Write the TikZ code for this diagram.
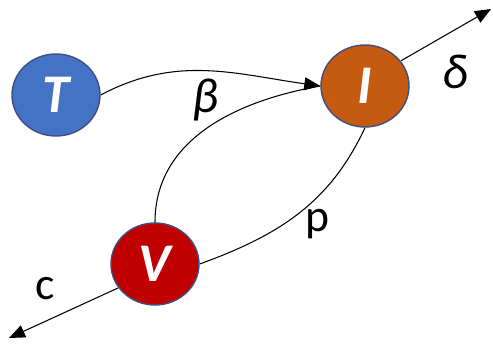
\documentclass[tikz,border=0pt]{standalone}
\usepackage{fontspec}
\setsansfont{Carlito}
\usetikzlibrary{shapes.geometric, arrows.meta}
\definecolor{tblue}{HTML}{4472C4}
\definecolor{iorange}{HTML}{C55A11}
\definecolor{vred}{HTML}{C00000}
\definecolor{rim}{HTML}{3F4F80}

\begin{document}
\begin{tikzpicture}[
    comp/.style={ellipse, draw=rim, line width=0.8pt, minimum width=1.76cm,
        minimum height=1.64cm, inner sep=0pt, text=white,
        font=\sffamily\bfseries\itshape\fontsize{31}{31}\selectfont},
    flow/.style={line width=0.6pt, -{Triangle[length=3.2mm,width=2.6mm]}},
    link/.style={line width=0.6pt},
    rate/.style={font=\sffamily\fontsize{26}{26}\selectfont}
]
    \useasboundingbox (0,0) rectangle (9.86,6.98);
    \node[comp, fill=tblue] (T) at (1.12,5.08) {T};
    \node[comp, fill=iorange] (I) at (7.30,5.26) {I};
    \node[comp, fill=vred] (V) at (3.10,1.70) {V};
    \coordinate (out) at (9.82,6.80);
    \coordinate (dec) at (0.18,0.22);
    \draw[flow] (T.east) to[out=28,in=172] (I.west);
    \draw[link] (V.north) to[out=90,in=190] (I.west);
    \draw[link] (I.south) to[out=-115,in=20] (V.east);
    \draw[flow] (I) ++(35:0.88) -- (out);
    \draw[flow] (V) ++(213:0.88) -- (dec);
    \node[rate, font=\sffamily\itshape\fontsize{28}{28}\selectfont] at (4.10,4.98) {β};
    \node[rate, font=\sffamily\itshape\fontsize{28}{28}\selectfont] at (9.10,5.54) {δ};
    \node[rate] at (6.36,2.50) {p};
    \node[rate] at (0.90,1.20) {c};
\end{tikzpicture}
\end{document}
